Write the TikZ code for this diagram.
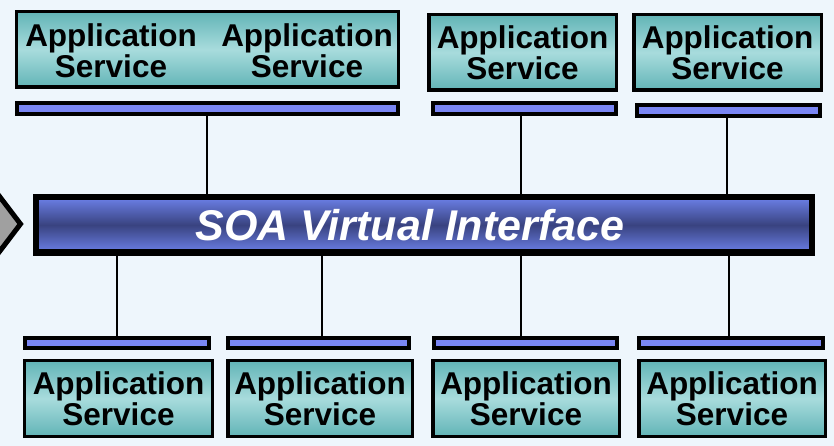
\documentclass[tikz,border=0pt]{standalone}
\usepackage{fontspec}
\setmainfont{Liberation Sans}
\definecolor{bgc}{HTML}{EEF6FC}
\definecolor{tealedge}{HTML}{62B4B6}
\definecolor{tealmid}{HTML}{A8DCDD}
\definecolor{barblue}{HTML}{7A86F4}
\definecolor{ifacelight}{HTML}{6C80E8}
\definecolor{ifacedark}{HTML}{394380}
\definecolor{chevgray}{HTML}{A0A0A0}
\newcommand\appfont{\fontsize{31.5bp}{31.5bp}\selectfont\bfseries}
\newcommand\ifacefont{\fontsize{43bp}{43bp}\selectfont\bfseries\itshape}
\tikzset{
  appbox/.style={draw=black, line width=3.5bp, top color=tealedge, bottom color=tealedge, middle color=tealmid,
    inner sep=0pt, outer sep=0pt, minimum height=75.5bp, align=center, font=\appfont},
  apptext/.style={inner sep=0pt, align=center, font=\appfont},
  busbar/.style={draw=black, line width=4bp, fill=barblue, inner sep=0pt, outer sep=0pt, minimum height=11bp},
  link/.style={draw=black, line width=1.5bp},
}
\begin{document}
\begin{tikzpicture}[x=1bp,y=-1bp]
\useasboundingbox (0,0) rectangle (834,446);
\fill[bgc] (0,0) rectangle (834,446);
% chevron on the left
\begin{scope}
\clip (0,0) rectangle (834,446);
\draw[line width=5bp, fill=chevgray, line join=miter] (-12,181.3) -- (20.5,224) -- (-12,266.7) -- cycle;
\end{scope}
% interface
\node[draw=black, line width=6.5bp, top color=ifacelight, bottom color=ifacelight, middle color=ifacedark,
  inner sep=0pt, outer sep=0pt, minimum width=775.5bp, minimum height=55.5bp] (iface) at (424,225) {};
\node[inner sep=0pt, font=\ifacefont, text=white] (ifacetext) at (410,225) {SOA Virtual Interface};
% top boxes
\node[appbox, minimum width=381.5bp] (t1) at (207.5,49.5) {};
\node[apptext] (t1a) at (111,50.5) {Application\\Service};
\node[apptext] (t1b) at (307,50.5) {Application\\Service};
\node[appbox, minimum width=187.5bp] (t2) at (522.5,52.5) {Application\\Service};
\node[appbox, minimum width=187.5bp] (t3) at (727.5,52.5) {Application\\Service};
% top bars
\node[busbar, minimum width=381bp] (tb1) at (207.5,108.5) {};
\node[busbar, minimum width=183bp] (tb2) at (524.5,108.5) {};
\node[busbar, minimum width=183bp] (tb3) at (728.5,110.5) {};
% bottom bars
\node[busbar, minimum width=184bp, minimum height=10bp] (bb1) at (117,343) {};
\node[busbar, minimum width=181bp, minimum height=10bp] (bb2) at (318.5,343) {};
\node[busbar, minimum width=183bp, minimum height=10bp] (bb3) at (525.5,343) {};
\node[busbar, minimum width=184bp, minimum height=10bp] (bb4) at (731,343) {};
% bottom boxes
\node[appbox, minimum width=187.5bp] (b1) at (118.5,398.5) {Application\\Service};
\node[appbox, minimum width=184.5bp] (b2) at (320,398.5) {Application\\Service};
\node[appbox, minimum width=186.5bp] (b3) at (526,398.5) {Application\\Service};
\node[appbox, minimum width=186.5bp] (b4) at (732,398.5) {Application\\Service};
% connectors
\draw[link] ([xshift=-0.5bp]tb1.south) -- ([xshift=-0.5bp]tb1.south |- iface.north);
\draw[link] ([xshift=-3.5bp]tb2.south) -- ([xshift=-3.5bp]tb2.south |- iface.north);
\draw[link] ([xshift=-1.5bp]tb3.south) -- ([xshift=-1.5bp]tb3.south |- iface.north);
\draw[link] (bb1.north |- iface.south) -- (bb1.north);
\draw[link] ([xshift=3.5bp]bb2.north |- iface.south) -- ([xshift=3.5bp]bb2.north);
\draw[link] ([xshift=-4.5bp]bb3.north |- iface.south) -- ([xshift=-4.5bp]bb3.north);
\draw[link] ([xshift=-2bp]bb4.north |- iface.south) -- ([xshift=-2bp]bb4.north);
\end{tikzpicture}
\end{document}
